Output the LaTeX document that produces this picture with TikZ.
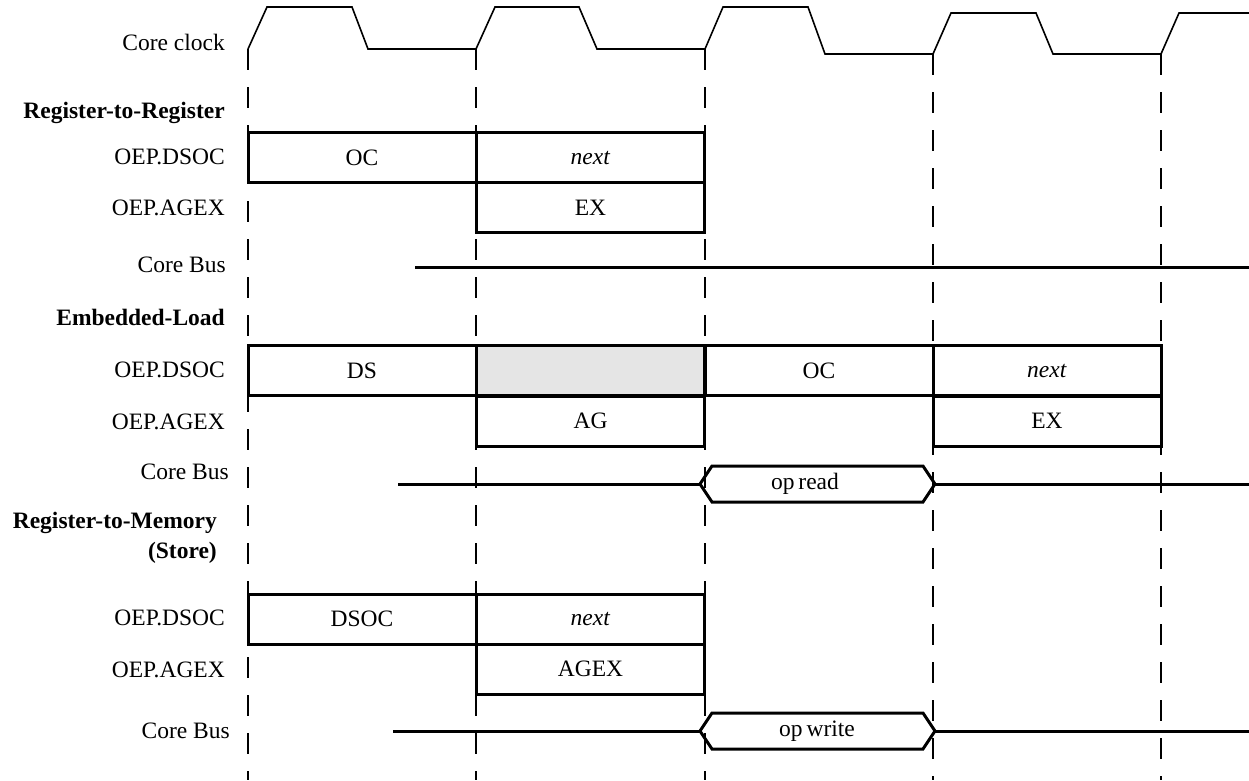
\documentclass[tikz,border=0pt]{standalone}
\usepackage{fontspec}
\setmainfont{Liberation Serif}
\usetikzlibrary{calc}

\begin{document}
\begin{tikzpicture}[x = 1pt, y = -1pt, every node/.style = {text = black, font = \fontsize{23.5}{27}\selectfont},
	stage/.style = {draw, line width = 3pt, fill = white, minimum width = 228pt, minimum height = 50pt, inner sep = 0pt},
	idle/.style = {stage, fill = black!10},
	row/.style = {anchor = east, inner sep = 0pt},
	group/.style = {row, font = \fontsize{23.5}{27}\selectfont\bfseries},
	guide/.style = {line width = 2.2pt, dash pattern = on 21pt off 17pt},
	clock/.style = {line width = 1.6pt},
	bus/.style = {line width = 3pt}]

	% Definitions

	\def\L{225}		% Right edge of the row labels
	\def\T{18}		% Half height of a bus transfer
	\def\P{12}		% Point of a bus transfer

	\useasboundingbox (0, 0) rectangle (1249, 780);

	% Guide lines at the rising edges

	\foreach \x/\y in {248/49, 476/49, 705/49, 933/54, 1161/54}
		\draw [guide] (\x, \y) -- (\x, 780);

	% Core clock

	\node [row] (lclk) at (\L, 42) {Core clock};
	\draw [clock] (248, 49) -- (267, 7) -- (352, 7) -- (368, 49) -- (476, 49)
		-- (495, 7) -- (579, 7) -- (597, 49) -- (705, 49)
		-- (723, 7) -- (808, 7) -- (825, 54) -- (933, 54)
		-- (951, 13) -- (1036, 13) -- (1053, 54) -- (1161, 54)
		-- (1179, 13) -- (1249, 13);

	% Register-to-Register

	\node [group] (grr) at (\L, 113) {Register-to-Register};
	\node [row] (rrds) at (\L, 157) {OEP.DSOC};
	\node [row] (rrag) at (\L, 208) {OEP.AGEX};
	\node [row] (rrbus) at (226, 265) {Core Bus};

	\node [stage] (rroc) at (362, 157.5) {OC};
	\node [stage] (rrnext) at (590.5, 157.5) {\textit{next}};
	\node [stage] (rrex) at (590.5, 207.5) {EX};

	\coordinate (rrin) at (415, 267);
	\coordinate (rrout) at (1249, 267);
	\draw [bus] (rrin) -- (rrout);

	% Embedded-Load

	\node [group] (gel) at (\L, 317) {Embedded-Load};
	\node [row] (elds) at (\L, 370) {OEP.DSOC};
	\node [row] (elag) at (\L, 422) {OEP.AGEX};
	\node [row] (elbus) at (229, 472) {Core Bus};

	\node [stage] (elds1) at (362, 370.5) {DS};
	\node [idle] (elwait) at (590.5, 370.5) {};
	\node [stage] (eloc) at (819, 370.5) {OC};
	\node [stage] (elnext) at (1047, 370.5) {\textit{next}};
	\node [stage] (elagbox) at (590.5, 421) {AG};
	\node [stage] (elex) at (1047, 421) {EX};

	\node (opread) at (805, 484) {op\,read};
	\coordinate (rdl) at (700, 484);
	\coordinate (rdr) at (935, 484);
	\draw [bus] (rdl) -- ++(\P, -\T) -- ($(rdr) + (-\P, -\T)$) -- (rdr)
		-- ++(-\P, \T) -- ($(rdl) + (\P, \T)$) -- cycle;
	\coordinate (elin) at (398, 484);
	\coordinate (elout) at (1249, 484);
	\draw [bus] (elin) -- (rdl);
	\draw [bus] (rdr) -- (elout);

	% Register-to-Memory

	\node [group] (grm) at (217, 523) {Register-to-Memory};
	\node [group] (gst) at (217, 553) {(Store)};
	\node [row] (rmds) at (\L, 618) {OEP.DSOC};
	\node [row] (rmag) at (\L, 670) {OEP.AGEX};
	\node [row] (rmbus) at (230, 731) {Core Bus};

	\node [stage] (rmdsoc) at (362, 619) {DSOC};
	\node [stage] (rmnext) at (590.5, 619) {\textit{next}};
	\node [stage] (rmagex) at (590.5, 669) {AGEX};

	\node (opwrite) at (817, 731) {op\,write};
	\coordinate (wrl) at (700, 731);
	\coordinate (wrr) at (935, 731);
	\draw [bus] (wrl) -- ++(\P, -\T) -- ($(wrr) + (-\P, -\T)$) -- (wrr)
		-- ++(-\P, \T) -- ($(wrl) + (\P, \T)$) -- cycle;
	\coordinate (rmin) at (393, 731);
	\coordinate (rmout) at (1249, 731);
	\draw [bus] (rmin) -- (wrl);
	\draw [bus] (wrr) -- (rmout);

\end{tikzpicture}
\end{document}
